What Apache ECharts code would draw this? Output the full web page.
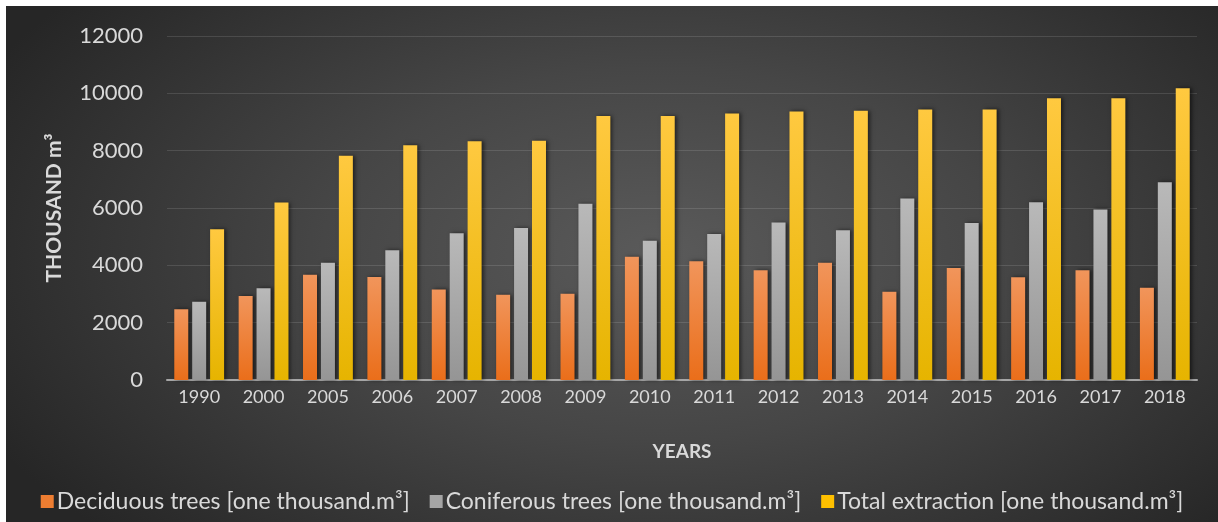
<!DOCTYPE html>
<html>
<head>
<meta charset="utf-8">
<script src="https://cdn.jsdelivr.net/npm/echarts@6/dist/echarts.min.js"></script>
<style>
  html, body { margin: 0; padding: 0; background: #ffffff; overflow: hidden; }
  #chart {
    position: absolute; left: 6px; top: 6px; width: 1212px; height: 516px;
    background: radial-gradient(ellipse 62% 80% at 54% 48%, #5a5a5a 0%, #464646 45%, #262626 100%);
  }
</style>
</head>
<body>
<div id="chart"></div>
<script>
// Timber extraction by year (thousand m³)
const years = ['1990','2000','2005','2006','2007','2008','2009','2010','2011','2012','2013','2014','2015','2016','2017','2018'];
const deciduous = [2470, 2930, 3670, 3590, 3160, 2970, 3010, 4300, 4140, 3830, 4090, 3080, 3910, 3580, 3830, 3220];
const coniferous = [2730, 3200, 4090, 4530, 5120, 5300, 6150, 4860, 5090, 5490, 5220, 6330, 5480, 6200, 5950, 6900];
const totalExtraction = [5260, 6190, 7820, 8190, 8330, 8350, 9210, 9210, 9300, 9370, 9390, 9440, 9440, 9830, 9830, 10180];
const yTicks = { min: 0, max: 12000, interval: 2000 };

const seriesNames = [
  'Deciduous trees [one thousand.m³]',
  'Coniferous trees [one thousand.m³]',
  'Total extraction [one thousand.m³]'
];

const textColor = '#d9d9d9';
const font = 'Lato, "Open Sans", sans-serif';

function vGrad(top, bottom) {
  return new echarts.graphic.LinearGradient(0, 0, 0, 1, [
    { offset: 0, color: top },
    { offset: 1, color: bottom }
  ]);
}

const barStyle = (top, bottom) => ({
  color: vGrad(top, bottom),
  shadowColor: 'rgba(0,0,0,0.55)',
  shadowBlur: 4,
  shadowOffsetX: 2,
  shadowOffsetY: 0
});

const chart = echarts.init(document.getElementById('chart'), null, { renderer: 'canvas' });

chart.setOption({
  backgroundColor: 'transparent',
  animation: false,
  textStyle: { fontFamily: font },
  grid: { left: 161, right: 21, top: 30, bottom: 142, containLabel: false },
  legend: {
    top: 479,
    left: 'center',
    itemWidth: 13,
    itemHeight: 13,
    itemGap: 20,
    icon: 'rect',
    textStyle: { color: textColor, fontSize: 23, fontFamily: font, padding: [0, 0, 0, -2] },
    data: [
      { name: seriesNames[0], itemStyle: { color: '#ed7d31' } },
      { name: seriesNames[1], itemStyle: { color: '#a5a5a5' } },
      { name: seriesNames[2], itemStyle: { color: '#ffc000' } }
    ]
  },
  xAxis: {
    type: 'category',
    data: years,
    name: 'YEARS',
    nameLocation: 'middle',
    nameGap: 62,
    nameTextStyle: { color: textColor, fontSize: 19, fontWeight: 'bold', fontFamily: font },
    axisLine: { lineStyle: { color: '#a6a6a6', width: 2 } },
    axisTick: { show: false },
    axisLabel: { color: textColor, fontSize: 18, margin: 8, fontFamily: font }
  },
  yAxis: {
    type: 'value',
    min: yTicks.min,
    max: yTicks.max,
    interval: yTicks.interval,
    name: 'THOUSAND m³',
    nameLocation: 'middle',
    nameGap: 102,
    nameTextStyle: { color: textColor, fontSize: 21, fontWeight: 'bold', fontFamily: font },
    axisLine: { show: false },
    axisTick: { show: false },
    axisLabel: {
      color: textColor, fontSize: 22, margin: 24, fontFamily: font,
      formatter: (v) => String(v)
    },
    splitLine: { lineStyle: { color: 'rgba(255,255,255,0.12)', width: 1 } }
  },
  series: [
    {
      name: seriesNames[0], type: 'bar', data: deciduous,
      barWidth: 14, barGap: '28%',
      itemStyle: barStyle('#f1955b', '#ea6e1a')
    },
    {
      name: seriesNames[1], type: 'bar', data: coniferous,
      barWidth: 14, barGap: '28%',
      itemStyle: barStyle('#b9b9b9', '#959595')
    },
    {
      name: seriesNames[2], type: 'bar', data: totalExtraction,
      barWidth: 14, barGap: '28%',
      itemStyle: barStyle('#ffc940', '#e6b400')
    }
  ]
});
</script>
</body>
</html>
